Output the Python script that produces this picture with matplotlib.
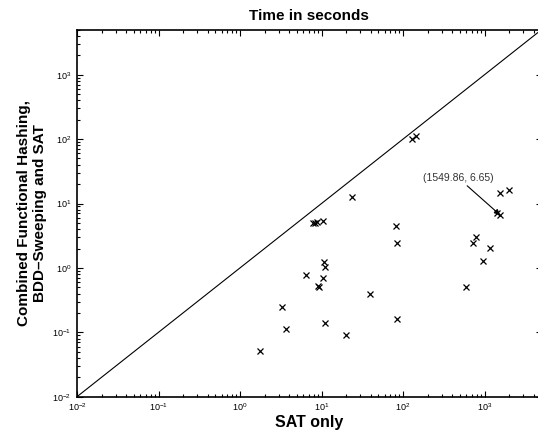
import numpy as np
import matplotlib
matplotlib.use('agg')
import matplotlib.pyplot as plt
import matplotlib.ticker as mticker

plt.rcParams['font.family'] = ['Liberation Sans', 'DejaVu Sans']
plt.rcParams['mathtext.fontset'] = 'custom'
plt.rcParams['mathtext.rm'] = 'Liberation Sans'
plt.rcParams['mathtext.default'] = 'regular'

# run times (seconds)
sat_only = [1.76, 3.3, 3.67, 6.5, 7.9, 8.3, 8.7, 10.3, 9.0, 9.3, 10.5, 10.7, 10.9,
            11.0, 19.8, 23.4, 39.7, 82, 83.5, 84, 128, 143,
            588, 730, 787, 967, 1178, 1413, 1549.86, 1563, 2000]
combined = [0.051, 0.25, 0.111, 0.78, 5.0, 4.9, 5.1, 5.3, 0.53, 0.50, 0.69, 1.25, 1.04,
            0.141, 0.090, 12.5, 0.39, 4.48, 2.46, 0.161, 100, 113,
            0.50, 2.46, 2.98, 1.29, 2.01, 7.05, 6.65, 14.4, 16.0]

ann_point = (1549.86, 6.65)
ann_text = (478, 20.8)
lims = (1e-2, 5e3)

fig = plt.figure(figsize=(5.38, 4.32), dpi=100)
ax = fig.add_axes([77/538, 35.3/432, 464.5/538, 367/432])

ax.set_xscale('log')
ax.set_yscale('log')
ax.set_xlim(lims)
ax.set_ylim(lims)

# y = x reference line
ax.axline((1, 1), (10, 10), color='k', lw=0.8, zorder=2)

ax.plot(sat_only, combined, 'x', color='k', ms=3.8, mew=0.9, zorder=3)

ax.annotate(f'({ann_point[0]}, {ann_point[1]})', xy=ann_point, xytext=ann_text,
            ha='center', va='bottom', fontsize=7.5, color='#333333',
            arrowprops=dict(arrowstyle='-|>', color='k', lw=0.8,
                            mutation_scale=8, shrinkA=0, shrinkB=0))

ax.xaxis.set_major_locator(mticker.LogLocator(base=10, numticks=20))
ax.yaxis.set_major_locator(mticker.LogLocator(base=10, numticks=20))
ax.xaxis.set_minor_locator(mticker.LogLocator(base=10, subs=np.arange(2, 10), numticks=20))
ax.yaxis.set_minor_locator(mticker.LogLocator(base=10, subs=np.arange(2, 10), numticks=20))
ax.xaxis.set_minor_formatter(mticker.NullFormatter())
ax.yaxis.set_minor_formatter(mticker.NullFormatter())

ax.tick_params(which='both', direction='in', top=True, right=True, labelsize=6.5, width=0.8)
ax.tick_params(which='major', length=4)
ax.tick_params(which='minor', length=2)
ax.tick_params(axis='x', pad=3)
ax.tick_params(axis='y', pad=4)
for s in ax.spines.values():
    s.set_linewidth(1.2)

ax.set_title('Time in seconds', fontsize=11, fontweight='bold', pad=7)
ax.set_xlabel('SAT only', fontsize=11.5, fontweight='bold', labelpad=1.5)
ax.set_ylabel('Combined Functional Hashing,\nBDD\u2013Sweeping and SAT',
              fontsize=11, fontweight='bold', labelpad=4)

fig.savefig('out.png', dpi=100)
